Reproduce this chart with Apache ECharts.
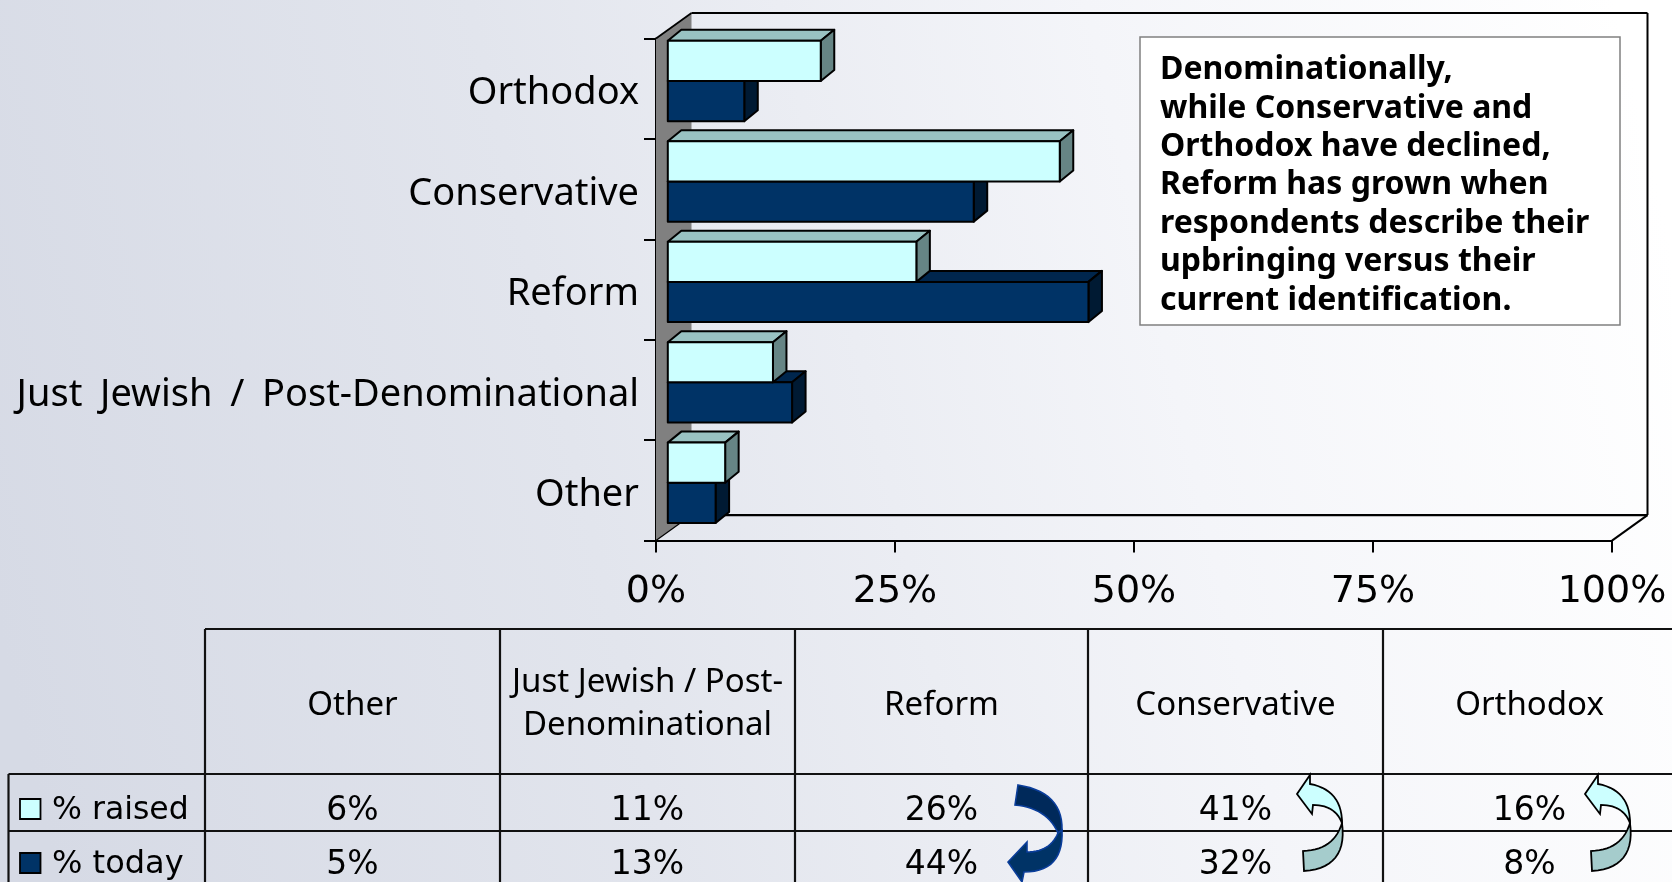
<!DOCTYPE html>
<html><head><meta charset="utf-8">
<style>html,body{margin:0;padding:0;background:#fff}#c{width:1672px;height:882px}</style>
<script src="https://cdn.jsdelivr.net/npm/echarts@6/dist/echarts.min.js"></script>
</head><body><div id="c"></div>
<script>
const categories = ['Orthodox','Conservative','Reform','Just Jewish / Post-Denominational','Other'];
const raisedValues = [16,41,26,11,6];
const todayValues = [8,32,44,13,5];
const xTicks = [0,25,50,75,100];
const tableHeaders = [['Other'],['Just Jewish / Post-','Denominational'],['Reform'],['Conservative'],['Orthodox']];
const tableRaised = ['6%','11%','26%','41%','16%'];
const tableToday = ['5%','13%','44%','32%','8%'];
const noteLines = ['Denominationally,','while Conservative and','Orthodox have declined,','Reform has grown when','respondents describe their','upbringing versus their','current identification.'];

const FONT = '"Noto Sans"';
const NUMFONT = '"DejaVu Sans"';
const INK = '#000';
const chart = echarts.init(document.getElementById('c'), null, {renderer:'canvas', width:1672, height:882});

function bars3d(palette, sign){
  return function(params, api){
    const p = api.coord([api.value(0), api.value(1)]);
    const z = api.coord([0, api.value(1)]);
    const h = api.size([0,1])[1]*0.4;
    const off = [11.8,-7.6], d = [13.5,-11];
    const x0 = z[0]+off[0], x1 = p[0]+off[0];
    const yc = p[1]+off[1];
    const y0 = sign<0 ? yc-h : yc, y1 = y0+h;
    const st = c=>({fill:c, stroke:INK, lineWidth:2, lineJoin:'round'});
    return {type:'group', children:[
      {type:'polygon', shape:{points:[[x0,y0],[x0+d[0],y0+d[1]],[x1+d[0],y0+d[1]],[x1,y0]]}, style:st(palette.top)},
      {type:'polygon', shape:{points:[[x1,y0],[x1+d[0],y0+d[1]],[x1+d[0],y1+d[1]],[x1,y1]]}, style:st(palette.side)},
      {type:'rect', shape:{x:x0,y:y0,width:x1-x0,height:h}, style:st(palette.front)}
    ]};
  };
}
function walls(params, api){
  const c0 = api.coord([0,0]), band = api.size([0,1])[1], xMax = api.coord([100,0])[0];
  const tl = [c0[0], c0[1]-band/2], bl = [c0[0], c0[1]+band*4.5], br = [xMax, bl[1]];
  const d = [35.5,-25.5];
  const line = (a,b,w)=>({type:'line', shape:{x1:a[0],y1:a[1],x2:b[0],y2:b[1]}, style:{stroke:INK,lineWidth:w}});
  const add = (a)=>[a[0]+d[0],a[1]+d[1]];
  const tlb = add(tl), blb = add(bl), brb = add(br), trb = [brb[0],tlb[1]];
  return {type:'group', children:[
    {type:'polygon', shape:{points:[tl,tlb,blb,bl]}, style:{fill:'#808080',stroke:'none'}},
    line(tl,tlb,1.8), line(tlb,trb,2), line(trb,brb,2), line(blb,brb,2.4), line(bl,blb,1.2), line(br,brb,2)
  ]};
}

// table ---------------------------------------------------
const colX = [205,500,795,1088,1383,1678];
const rowY = [629,774,831,890];
const g = [];
const seg = (x1,y1,x2,y2)=>g.push({type:'line',shape:{x1,y1,x2,y2},style:{stroke:'#111',lineWidth:2.2},z:5});
seg(colX[0],rowY[0],1672,rowY[0]);
seg(8.5,rowY[1],1672,rowY[1]);
seg(8.5,rowY[2],1672,rowY[2]);
seg(8.5,rowY[1],8.5,882);
colX.slice(0,5).forEach(x=>seg(x,rowY[0],x,882));
const txt = (t,x,y,size,o={})=>g.push({type:'text',z:o.fontWeight?8:6,x,y,style:Object.assign({text:t,fontFamily:FONT,fontSize:size,fill:'#000',align:'center',verticalAlign:'middle'},o)});
tableHeaders.forEach((lines,i)=>{
  const cx=(colX[i]+colX[i+1])/2 - (i===4?1:0);
  if(lines.length===1) txt(lines[0],cx,706,33);
  else { txt(lines[0],cx,683,33); txt(lines[1],cx,726,33); }
  txt(tableRaised[i],cx,811,33,{fontFamily:NUMFONT});
  txt(tableToday[i],cx,865,33,{fontFamily:NUMFONT});
});
g.push({type:'rect',z:6,shape:{x:20,y:799,width:20.5,height:20},style:{fill:'#ccffff',stroke:INK,lineWidth:1.8}});
g.push({type:'rect',z:6,shape:{x:20,y:853,width:20.5,height:20},style:{fill:'#003366',stroke:INK,lineWidth:1.8}});
txt('% raised',52,811,31.5,{align:'left',fontFamily:NUMFONT});
txt('% today',52,865,32,{align:'left',fontFamily:NUMFONT});

// note box
g.push({type:'rect',z:7,shape:{x:1140,y:37,width:480,height:288},style:{fill:'#fff',stroke:'#808080',lineWidth:1.5}});
noteLines.forEach((t,i)=>txt(t,1160,70+i*38.4,32,{align:'left',fontWeight:'bold'}));

// arrows
function quad(a,c,b,n=14){const r=[];for(let i=0;i<=n;i++){const t=i/n,u=1-t;r.push([u*u*a[0]+2*u*t*c[0]+t*t*b[0],u*u*a[1]+2*u*t*c[1]+t*t*b[1]]);}return r;}
function lightArrow(dx){
  const S=p=>[p[0]+dx,p[1]];
  const upper=[...quad(S([1310,784]),S([1342,790]),S([1342,823])),...quad(S([1342,823]),S([1335,805]),S([1313,805])),S([1312,814]),S([1297,794]),S([1310,775])];
  const lower=[...quad(S([1342,823]),S([1334,850]),S([1303,851])),S([1304,871]),...quad(S([1304,871]),S([1348,868]),S([1342,823]))];
  g.push({type:'polygon',z:9,shape:{points:lower},style:{fill:'#a5cccc',stroke:INK,lineWidth:1.8,lineJoin:'miter'}});
  g.push({type:'polygon',z:10,shape:{points:upper},style:{fill:'#ccffff',stroke:INK,lineWidth:1.8,lineJoin:'miter'}});
}
lightArrow(0); lightArrow(288);
const navyUpper=[...quad([1018,785],[1063,792],[1062,830]),...quad([1058,833],[1047,808],[1015,805])];
const navyLower=[...quad([1058,833],[1050,852],[1027,852]),[1027,842],[1008,862],[1022,882],[1024,872],...quad([1024,872],[1064,872],[1062,830])];
g.push({type:'polygon',z:9,shape:{points:navyLower},style:{fill:'#003366',stroke:'#0a3d9a',lineWidth:1.6}});
g.push({type:'polygon',z:10,shape:{points:navyUpper},style:{fill:'#00295a',stroke:'#0a3d9a',lineWidth:1.6}});

chart.setOption({
  animation:false,
  backgroundColor:{type:'linear',x:0,y:0.72,x2:1,y2:0.28,colorStops:[{offset:0,color:'#d6dae5'},{offset:0.35,color:'#e2e5ed'},{offset:0.7,color:'#f4f5f9'},{offset:1,color:'#ffffff'}]},
  grid:{left:656,top:38.4,width:956,height:502.2,containLabel:false},
  xAxis:{type:'value',min:xTicks[0],max:xTicks[4],interval:xTicks[1]-xTicks[0],splitLine:{show:false},
    axisLine:{show:true,lineStyle:{color:INK,width:2}},axisTick:{show:true,length:12,lineStyle:{color:INK,width:2}},
    axisLabel:{formatter:'{value}%',fontFamily:NUMFONT,fontSize:38,color:'#000',margin:33,hideOverlap:false,showMinLabel:true,showMaxLabel:true}},
  yAxis:{type:'category',inverse:true,data:categories,splitLine:{show:false},
    axisLine:{show:true,onZero:false,lineStyle:{color:INK,width:2}},axisTick:{show:true,length:12,alignWithLabel:false,lineStyle:{color:INK,width:2}},
    axisLabel:{fontFamily:FONT,fontSize:38,color:'#000',margin:17,interval:0,padding:[10,0,0,0],
      formatter:v=>v.replace(/ /g,'{s| }'),
      rich:{s:{fontFamily:FONT,fontSize:68,lineHeight:38,color:'#000'}}}},
  series:[
    {type:'custom',name:'walls',coordinateSystem:'cartesian2d',data:[[0,0]],renderItem:walls,z:1,silent:true,clip:false,encode:{x:0,y:1}},
    {type:'custom',name:'% today',coordinateSystem:'cartesian2d',data:todayValues.map((v,i)=>[v,i]),encode:{x:0,y:1},z:3,clip:false,
      renderItem:bars3d({front:'#003366',top:'#00264d',side:'#001a33'},1)},
    {type:'custom',name:'% raised',coordinateSystem:'cartesian2d',data:raisedValues.map((v,i)=>[v,i]),encode:{x:0,y:1},z:4,clip:false,
      renderItem:bars3d({front:'#ccffff',top:'#99c2c2',side:'#668585'},-1)}
  ],
  graphic:{elements:g}
});
</script></body></html>
